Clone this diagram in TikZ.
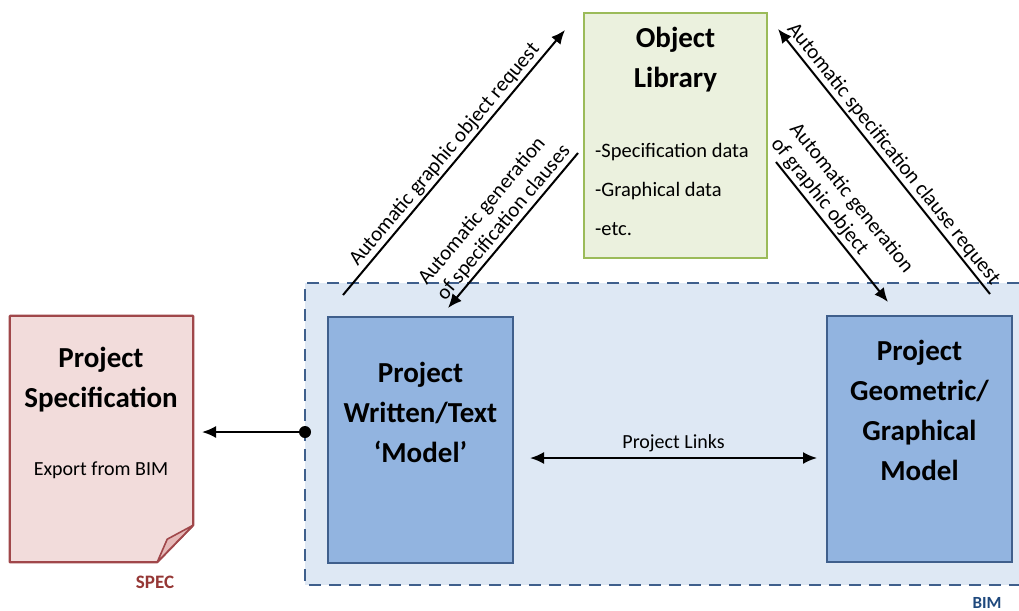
\documentclass[tikz,border=0pt]{standalone}
\usepackage{fontspec}
\setmainfont{Carlito}
\usetikzlibrary{arrows.meta}
\definecolor{libfill}{HTML}{EBF1DE}
\definecolor{libdraw}{HTML}{9BBB59}
\definecolor{bimfill}{HTML}{DEE8F4}
\definecolor{bimdraw}{HTML}{3F5F8C}
\definecolor{modelfill}{HTML}{92B4E0}
\definecolor{modeldraw}{HTML}{3F5F8C}
\definecolor{specfill}{HTML}{F2DCDB}
\definecolor{specdraw}{HTML}{A0474A}
\definecolor{foldfill}{HTML}{E6B9B8}
\definecolor{speclabel}{HTML}{953735}
\definecolor{bimlabel}{HTML}{1F497D}
\begin{document}
\begin{tikzpicture}[x=1pt,y=-1pt,
  modelbox/.style={draw=modeldraw, fill=modelfill, line width=2pt, minimum width=185pt, minimum height=246pt, inner sep=0pt},
  libbox/.style={draw=libdraw, fill=libfill, line width=2.2pt, minimum width=183pt, minimum height=245pt, inner sep=0pt},
  titletext/.style={font={\fontsize{29}{40}\selectfont\bfseries}, align=center, inner sep=0pt},
  bodytext/.style={font={\fontsize{20.5}{39}\selectfont}, inner sep=0pt},
  difflabel/.style={font={\fontsize{21}{24}\selectfont}, sloped, above=2pt, inner sep=0pt, align=left},
  arr/.style={line width=2pt, -{Latex[length=14pt,width=12pt]}},
  dblarr/.style={line width=2pt, {Latex[length=14pt,width=12pt]}-{Latex[length=14pt,width=12pt]}},
  bimdash/.style={draw=bimdraw, line width=2.6pt, dash pattern=on 12pt off 8pt}
]
\useasboundingbox (0,0) rectangle (1019,610);

% BIM region
\fill[bimfill] (305,283) rectangle (1019,585);
\draw[bimdash] (1019,283) -- (305,283) -- (305,585) -- (1019,585);
\node[font={\fontsize{17}{20}\selectfont\bfseries}, text=bimlabel, inner sep=0pt] (bimlbl) at (987,603) {BIM};

% Object library
\node[libbox] (lib) at (675.5,135.5) {};
\node[titletext] (libt) at (675.5,60) {Object\\Library};
\node[bodytext, align=left, anchor=west] (libi) at (595,189) {-Specification data\\-Graphical data\\-etc.};

% Model boxes
\node[modelbox] (wm) at (420.5,440) {};
\node[titletext] (wmt) at (420.5,412) {Project\\Written/Text\\‘Model’};
\node[modelbox] (gm) at (919.5,438.5) {};
\node[titletext] (gmt) at (919.5,410) {Project\\Geometric/\\Graphical\\Model};

% Project specification document
\node[minimum width=183pt, minimum height=246pt, inner sep=0pt] (spec) at (101.5,439) {};
\draw[draw=specdraw, fill=specfill, line width=2.2pt, line join=round]
  (spec.north west) -- (spec.north east) -- ([yshift=37pt]spec.south east)
  -- ([xshift=-36pt]spec.south east) -- (spec.south west) -- cycle;
\draw[draw=specdraw, fill=foldfill, line width=1.6pt, line join=round]
  ([xshift=-36pt]spec.south east) -- ([xshift=-26pt,yshift=23pt]spec.south east)
  -- ([yshift=37pt]spec.south east) -- cycle;
\node[titletext] (spect) at (101,380) {Project\\Specification};
\node[font={\fontsize{20}{24}\selectfont}, inner sep=0pt] (specsub) at (101,470) {Export from BIM};
\node[font={\fontsize{19}{22}\selectfont\bfseries}, text=speclabel, inner sep=0pt] (speclbl) at (155,582) {SPEC};

% Export arrow
\coordinate (dot) at (305,432);
\coordinate (specin) at (202,432);
\draw[arr] (dot) -- (specin);
\fill (dot) circle (6pt);

% Project links
\coordinate (lA) at (530,458);
\coordinate (lB) at (817,458);
\draw[dblarr] (lA) -- node[above=5pt, font={\fontsize{20}{24}\selectfont}, inner sep=0pt] (linkl) {Project Links} (lB);

% Diagonal arrows
\coordinate (a1s) at (343,295);
\coordinate (a1e) at (565,30);
\draw[arr] (a1s) -- node[difflabel, pos=0.5] (l1) {Automatic graphic object request} (a1e);

\coordinate (a2s) at (578,153);
\coordinate (a2e) at (448,308);
\draw[arr] (a2s) -- node[difflabel, pos=0.5] (l2) {Automatic generation\\of specification clauses} (a2e);

\coordinate (a3s) at (776,162);
\coordinate (a3e) at (888,302);
\draw[arr] (a3s) -- node[difflabel, pos=0.42] (l3) {Automatic generation\\of graphic object} (a3e);

\coordinate (a4s) at (990,294);
\coordinate (a4e) at (778,29);
\draw[arr] (a4s) -- node[difflabel, pos=0.5] (l4) {Automatic specification clause request} (a4e);
\end{tikzpicture}
\end{document}
